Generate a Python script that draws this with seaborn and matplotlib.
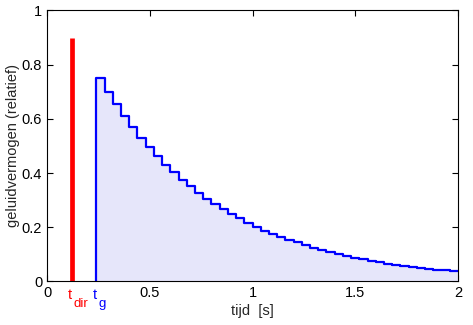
import numpy as np
import pandas as pd
import matplotlib
matplotlib.use("Agg")
import matplotlib.pyplot as plt
import seaborn as sns

# direct sound
t_dir = 0.12
p_dir = 0.9

# reverberant (step) energy, one step per 0.04 s from t_g
t_g = 0.24
step = 0.04
p_steps = [0.750, 0.700, 0.653, 0.612, 0.568, 0.530, 0.496, 0.463, 0.431, 0.405,
           0.376, 0.352, 0.328, 0.306, 0.284, 0.268, 0.250, 0.233, 0.217, 0.202,
           0.187, 0.176, 0.165, 0.154, 0.144, 0.135, 0.125, 0.116, 0.109, 0.101,
           0.094, 0.088, 0.082, 0.076, 0.070, 0.066, 0.062, 0.057, 0.053, 0.050,
           0.047, 0.044, 0.042, 0.040]

xticks = [0, 0.5, 1, 1.5, 2]
xticklabels = ['0', '0.5', '1', '1.5', '2']
yticks = [0, 0.2, 0.4, 0.6, 0.8, 1]
yticklabels = ['0', '0.2', '0.4', '0.6', '0.8', '1']

sns.set_theme(style="ticks")
plt.rcParams['font.family'] = ['Liberation Sans', 'DejaVu Sans']

t_steps = [t_g + step * i for i in range(len(p_steps))]
df = pd.DataFrame({'t': [t_g] + t_steps + [2.0],
                   'p': [0.0] + p_steps + [p_steps[-1]]})

fig = plt.figure(figsize=(4.73, 3.25), dpi=100)
ax = fig.add_axes([0.0994, 0.134, 0.8689, 0.834])

ax.fill_between(df['t'], df['p'], step='post', color='#E6E6FA', lw=0)
sns.lineplot(data=df, x='t', y='p', ax=ax, estimator=None, sort=False,
             drawstyle='steps-post', color='#0000FF', lw=1.6)
ax.plot([t_dir, t_dir], [0, p_dir], color='#FF0000', lw=3.4, solid_capstyle='butt')

ax.set_xlim(0, 2)
ax.set_ylim(0, 1)
ax.set_xticks(xticks)
ax.set_xticklabels(xticklabels)
ax.set_yticks(yticks)
ax.set_yticklabels(yticklabels)
ax.tick_params(direction='in', length=4, width=0.8, labelsize=10.5,
               top=True, right=True, colors='black')
for s in ax.spines.values():
    s.set_linewidth(0.8)
    s.set_color('black')

# t_dir and t_g markers under the axis
tr = ax.get_xaxis_transform()
for tx, sub, col in [(t_dir, 'dir', '#FF0000'), (t_g, 'g', '#0000FF')]:
    ax.annotate('t', xy=(tx, 0), xycoords=tr, xytext=(-1, -5),
                textcoords='offset points', ha='center', va='top',
                fontsize=10.5, color=col)
    ax.annotate(sub, xy=(tx, 0), xycoords=tr, xytext=(1.5, -12),
                textcoords='offset points', ha='left', va='top',
                fontsize=9.5, color=col)

ax.set_xlabel('tijd  [s]', fontsize=10.5, labelpad=3)
ax.set_ylabel('geluidvermogen (relatief)', fontsize=10.5, labelpad=1)

fig.savefig('out.png', dpi=100)
